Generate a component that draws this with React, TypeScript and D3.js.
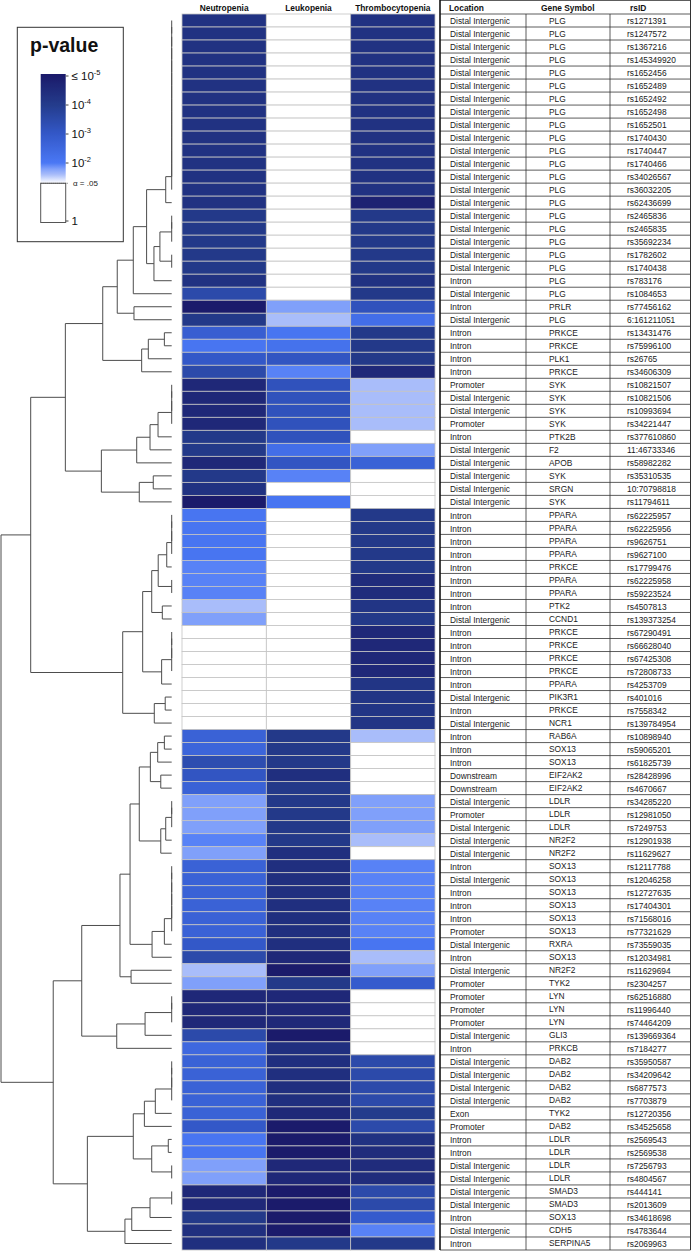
import React from "react";
import * as d3 from "d3";

// ---------------- DATA ----------------
const diseases = ["Neutropenia", "Leukopenia", "Thrombocytopenia"];

const locations = [
  "Distal Intergenic", "Distal Intergenic", "Distal Intergenic", "Distal Intergenic", "Distal Intergenic",
  "Distal Intergenic", "Distal Intergenic", "Distal Intergenic", "Distal Intergenic", "Distal Intergenic",
  "Distal Intergenic", "Distal Intergenic", "Distal Intergenic", "Distal Intergenic", "Distal Intergenic",
  "Distal Intergenic", "Distal Intergenic", "Distal Intergenic", "Distal Intergenic", "Distal Intergenic",
  "Intron", "Distal Intergenic", "Intron", "Distal Intergenic", "Intron",
  "Intron", "Intron", "Intron", "Promoter", "Distal Intergenic",
  "Distal Intergenic", "Promoter", "Intron", "Distal Intergenic", "Distal Intergenic",
  "Distal Intergenic", "Distal Intergenic", "Distal Intergenic", "Intron", "Intron",
  "Intron", "Intron", "Intron", "Intron", "Intron",
  "Intron", "Distal Intergenic", "Intron", "Intron", "Intron",
  "Intron", "Intron", "Distal Intergenic", "Intron", "Distal Intergenic",
  "Intron", "Intron", "Intron", "Downstream", "Downstream",
  "Distal Intergenic", "Promoter", "Distal Intergenic", "Distal Intergenic", "Distal Intergenic",
  "Intron", "Distal Intergenic", "Intron", "Intron", "Intron",
  "Promoter", "Distal Intergenic", "Intron", "Distal Intergenic", "Promoter",
  "Promoter", "Promoter", "Promoter", "Distal Intergenic", "Intron",
  "Distal Intergenic", "Distal Intergenic", "Distal Intergenic", "Distal Intergenic", "Exon",
  "Promoter", "Intron", "Intron", "Distal Intergenic", "Distal Intergenic",
  "Distal Intergenic", "Distal Intergenic", "Intron", "Distal Intergenic", "Intron",
];

const genes = [
  "PLG", "PLG", "PLG", "PLG", "PLG", "PLG", "PLG", "PLG", "PLG", "PLG",
  "PLG", "PLG", "PLG", "PLG", "PLG", "PLG", "PLG", "PLG", "PLG", "PLG",
  "PLG", "PLG", "PRLR", "PLG", "PRKCE", "PRKCE", "PLK1", "PRKCE", "SYK", "SYK",
  "SYK", "SYK", "PTK2B", "F2", "APOB", "SYK", "SRGN", "SYK", "PPARA", "PPARA",
  "PPARA", "PPARA", "PRKCE", "PPARA", "PPARA", "PTK2", "CCND1", "PRKCE", "PRKCE", "PRKCE",
  "PRKCE", "PPARA", "PIK3R1", "PRKCE", "NCR1", "RAB6A", "SOX13", "SOX13", "EIF2AK2", "EIF2AK2",
  "LDLR", "LDLR", "LDLR", "NR2F2", "NR2F2", "SOX13", "SOX13", "SOX13", "SOX13", "SOX13",
  "SOX13", "RXRA", "SOX13", "NR2F2", "TYK2", "LYN", "LYN", "LYN", "GLI3", "PRKCB",
  "DAB2", "DAB2", "DAB2", "DAB2", "TYK2", "DAB2", "LDLR", "LDLR", "LDLR", "LDLR",
  "SMAD3", "SMAD3", "SOX13", "CDH5", "SERPINA5",
];

const rsIDs = [
  "rs1271391", "rs1247572", "rs1367216", "rs145349920", "rs1652456",
  "rs1652489", "rs1652492", "rs1652498", "rs1652501", "rs1740430",
  "rs1740447", "rs1740466", "rs34026567", "rs36032205", "rs62436699",
  "rs2465836", "rs2465835", "rs35692234", "rs1782602", "rs1740438",
  "rs783176", "rs1084653", "rs77456162", "6:161211051", "rs13431476",
  "rs75996100", "rs26765", "rs34606309", "rs10821507", "rs10821506",
  "rs10993694", "rs34221447", "rs377610860", "11:46733346", "rs58982282",
  "rs35310535", "10:70798818", "rs11794611", "rs62225957", "rs62225956",
  "rs9626751", "rs9627100", "rs17799476", "rs62225958", "rs59223524",
  "rs4507813", "rs139373254", "rs67290491", "rs66628040", "rs67425308",
  "rs72808733", "rs4253709", "rs401016", "rs7558342", "rs139784954",
  "rs10898940", "rs59065201", "rs61825739", "rs28428996", "rs4670667",
  "rs34285220", "rs12981050", "rs7249753", "rs12901938", "rs11629627",
  "rs12117788", "rs12046258", "rs12727635", "rs17404301", "rs71568016",
  "rs77321629", "rs73559035", "rs12034981", "rs11629694", "rs2304257",
  "rs62516880", "rs11996440", "rs74464209", "rs139669364", "rs7184277",
  "rs35950587", "rs34209642", "rs6877573", "rs7703879", "rs12720356",
  "rs34525658", "rs2569543", "rs2569538", "rs7256793", "rs4804567",
  "rs444141", "rs2013609", "rs34618698", "rs4783644", "rs2069963",
];

// values are -log10(p); 0 = not significant (white)
const neutropenia = [
  4.3, 4.3, 4.3, 4.3, 4.3, 4.3, 4.3, 4.3, 4.3, 4.3,
  4.3, 4.3, 4.3, 4.3, 4.3, 4.1, 4.1, 4.1, 4.1, 4.1,
  4.3, 3.5, 5.0, 4.1, 2.8, 2.1, 3.0, 3.5, 4.6, 4.6,
  4.6, 4.6, 4.1, 4.1, 4.6, 4.1, 4.3, 5.0, 2.1, 2.1,
  2.1, 2.1, 1.95, 1.95, 1.95, 1.6, 1.8, 0, 0, 0,
  0, 0, 0, 0, 0, 2.7, 2.6, 3.4, 3.1, 2.7,
  1.8, 1.8, 1.8, 1.95, 1.8, 2.7, 2.7, 2.7, 2.7, 2.7,
  2.7, 3.0, 3.5, 1.6, 1.8, 4.6, 4.6, 4.6, 3.5, 2.5,
  2.7, 2.7, 2.7, 2.7, 2.7, 3.0, 2.1, 2.1, 1.8, 1.8,
  4.6, 4.6, 4.1, 4.4, 4.4,
];

const leukopenia = [
  0, 0, 0, 0, 0, 0, 0, 0, 0, 0,
  0, 0, 0, 0, 0, 0, 0, 0, 0, 0,
  0, 0, 1.8, 1.6, 2.1, 2.2, 3.1, 1.95, 3.2, 3.2,
  3.2, 3.2, 3.2, 2.3, 3.1, 1.95, 0, 2.1, 0, 0,
  0, 0, 0, 0, 0, 0, 0, 0, 0, 0,
  0, 0, 0, 0, 0, 4.1, 4.1, 4.1, 4.4, 4.1,
  4.1, 4.1, 4.1, 4.1, 4.4, 4.4, 4.4, 4.4, 4.4, 4.4,
  4.4, 4.4, 4.6, 5.0, 4.1, 4.6, 4.6, 4.6, 5.0, 4.4,
  4.4, 4.4, 4.4, 4.4, 4.6, 5.0, 5.0, 5.0, 4.6, 4.6,
  5.0, 5.0, 5.0, 5.0, 4.1,
];

const thrombocytopenia = [
  4.3, 4.3, 4.3, 4.3, 4.3, 4.3, 4.3, 4.3, 4.3, 4.3,
  4.3, 4.3, 4.3, 4.3, 4.8, 4.1, 4.1, 4.1, 4.1, 4.1,
  4.3, 4.1, 3.2, 2.3, 4.1, 4.1, 4.1, 4.6, 1.6, 1.6,
  1.6, 1.6, 0, 1.8, 2.7, 0, 0, 0, 4.1, 4.1,
  4.1, 4.1, 4.1, 4.5, 4.5, 4.2, 4.1, 4.6, 4.6, 4.6,
  4.6, 4.2, 4.2, 4.2, 4.2, 1.6, 0, 0, 0, 0,
  1.8, 1.8, 1.8, 1.6, 0, 1.95, 1.95, 1.95, 1.95, 1.95,
  1.95, 2.1, 1.6, 1.8, 2.9, 0, 0, 0, 0, 0,
  3.5, 3.5, 3.5, 3.5, 4.0, 3.5, 4.3, 4.5, 4.5, 4.5,
  3.5, 3.5, 2.9, 1.95, 4.1,
];

// legend ticks in -log10(p)
const legendTicks = [
  { t: 5, base: "≤ 10", sup: "-5" },
  { t: 4, base: "10", sup: "-4" },
  { t: 3, base: "10", sup: "-3" },
  { t: 2, base: "10", sup: "-2" },
  { t: 0, base: "1", sup: "" },
];
const alphaLevel = 0.05;

// dendrogram: [mergeHeight, left, right], leaves are row numbers (1-based)
type TreeNode = number | [number, TreeNode, TreeNode];
const chain = (...leaves: number[]): TreeNode =>
  leaves.slice(1).reduce<TreeNode>((acc, l) => [0, acc, l], leaves[0]);

const dendrogram: TreeNode = [1.0,
  [0.826,
    [0.623,
      [0.404,
        [0.319,
          [0.225,
            [0.147,
              [0.035, chain(1, 2, 3, 4, 5, 6, 7, 8, 9, 10, 11, 12, 13, 14), 15],
              [0.104, [0.069, chain(16, 17, 18), chain(19, 20)], 21]],
            22],
          [0.221, 23, 24]],
        [0.176, [0.137, [0.043, 25, 26], 27], 28]],
      [0.412,
        [0.205, [0.127, [0.080, chain(29, 30, 31, 32), 33], 34], 35],
        [0.190, [0.108, 36, 37], 38]]],
    [0.287,
      [0.170,
        [0.117,
          [0.079, [0.029, chain(39, 40, 41, 42), 43], chain(44, 45)],
          [0.055, 46, 47]],
        [0.059, chain(48, 49, 50, 51), 52]],
      [0.102, [0.038, 53, 54], 55]]],
  [0.694,
    [0.527,
      [0.303,
        [0.244,
          [0.190,
            [0.125, [0.082, [0.043, 56, 57], 58], [0.064, 59, 60]],
            [0.064, [0.035, chain(61, 62, 63), 64], 65]],
          [0.115, [0.043, chain(66, 67, 68, 69, 70, 71), 72], 73]],
        [0.238, 74, 75]],
      [0.322, [0.156, chain(76, 77, 78), 79], 80]],
    [0.494,
      [0.225,
        [0.160, [0.096, chain(81, 82, 83, 84), 85], 86],
        [0.117, [0.020, 87, 88], chain(89, 90)]],
      [0.274, [0.234, [0.127, chain(91, 92), 93], 94], 95]]]];

// ---------------- LAYOUT / STYLE ----------------
const W = 692;
const H = 1251;
const FONT = "'Liberation Sans', Arial, Helvetica, sans-serif";
const TOP = 14;
const BOTTOM = 1250;
const HEAT_X0 = 182;
const HEAT_X1 = 435;
const TABLE_X0 = 440;
const TABLE_X1 = 690.5;
const COL_DIV1 = 526;
const COL_DIV2 = 610;

const colorStops = [-Math.log10(alphaLevel), 1.6, 1.8, 2, 3, 4, 5];
const colorValues = ["#ffffff", "#a9bdfa", "#80a0fa", "#4a78f5", "#3358c8", "#243c8c", "#1b1b6b"];
const colorScale = d3.scaleLinear<string>().domain(colorStops).range(colorValues)
  .interpolate(d3.interpolateRgb).clamp(true);
const cellColor = (t: number) => (t < -Math.log10(alphaLevel) ? "#ffffff" : colorScale(t));

export default function App() {
  const n = rsIDs.length;
  const yBand = d3.scaleBand<number>().domain(d3.range(n)).range([TOP, BOTTOM]).padding(0);
  const bw = yBand.bandwidth();
  const yc = (i: number) => (yBand(i) as number) + bw / 2;
  const xCol = d3.scaleBand<string>().domain(diseases).range([HEAT_X0, HEAT_X1]).padding(0);
  const series = [neutropenia, leukopenia, thrombocytopenia];

  // dendrogram
  const xTree = d3.scaleLinear().domain([0, 1]).range([171.7, 1]);
  const segs: [number, number, number, number][] = [];
  const lay = (node: TreeNode): { x: number; y: number } => {
    if (typeof node === "number") return { x: xTree(0), y: yc(node - 1) };
    const [h, a, b] = node;
    const A = lay(a);
    const B = lay(b);
    const x = xTree(h);
    segs.push([x, A.y, x, B.y]);
    if (A.x !== x) segs.push([x, A.y, A.x, A.y]);
    if (B.x !== x) segs.push([x, B.y, B.x, B.y]);
    return { x, y: (A.y + B.y) / 2 };
  };
  lay(dendrogram);

  // legend
  const yLeg = d3.scaleLinear().domain([0, 5]).range([221, 76]);
  const barTop = 74;
  const barBot = 222.5;
  const gradStops = d3.range(0, 101).map((k) => {
    const y = barTop + (k / 100) * (barBot - barTop);
    const t = yLeg.invert(y);
    return { off: k, color: cellColor(t) };
  });
  const yAlpha = yLeg(-Math.log10(alphaLevel));

  return (
    <svg width={W} height={H} style={{ position: "absolute", left: 0, top: 0, background: "#fff" }}
      fontFamily={FONT}>
      <defs>
        <linearGradient id="pgrad" x1="0" y1="0" x2="0" y2="1">
          {gradStops.map((s) => (
            <stop key={s.off} offset={`${s.off}%`} stopColor={s.color} />
          ))}
        </linearGradient>
      </defs>
      <rect x={0} y={0} width={W} height={H} fill="#fff" />

      {/* dendrogram */}
      <g stroke="#4d4d4d" strokeWidth={1} fill="none">
        {segs.map((s, i) => (
          <line key={i} x1={s[0]} y1={s[1]} x2={s[2]} y2={s[3]} />
        ))}
      </g>

      {/* heatmap */}
      <g>
        {diseases.map((d, ci) =>
          series[ci].map((v, ri) => (
            <rect key={`${d}-${ri}`} x={xCol(d)} y={yBand(ri)} width={xCol.bandwidth()} height={bw}
              fill={cellColor(v)} stroke="#c4c4c4" strokeWidth={0.8} />
          ))
        )}
        {diseases.map((d) => (
          <text key={d} x={(xCol(d) as number) + xCol.bandwidth() / 2} y={10.5} textAnchor="middle"
            fontSize={8.4} fontWeight="bold" fill="#111">{d}</text>
        ))}
      </g>

      {/* table */}
      <g>
        {d3.range(n + 1).map((i) => {
          const y = i < n ? (yBand(i) as number) : BOTTOM;
          return <line key={i} x1={TABLE_X0} x2={TABLE_X1} y1={y} y2={y} stroke="#333" strokeWidth={0.8} />;
        })}
        <line x1={TABLE_X0} x2={TABLE_X1} y1={0.5} y2={0.5} stroke="#333" strokeWidth={0.8} />
        <line x1={TABLE_X0} x2={TABLE_X0} y1={0} y2={BOTTOM} stroke="#111" strokeWidth={1.6} />
        <line x1={TABLE_X1} x2={TABLE_X1} y1={0} y2={BOTTOM} stroke="#333" strokeWidth={1} />
        <line x1={COL_DIV1} x2={COL_DIV1} y1={TOP} y2={BOTTOM} stroke="#333" strokeWidth={0.8} />
        <line x1={COL_DIV2} x2={COL_DIV2} y1={TOP} y2={BOTTOM} stroke="#333" strokeWidth={0.8} />
        <text x={449} y={10.5} fontSize={8.4} fontWeight="bold" fill="#111">Location</text>
        <text x={541} y={10.5} fontSize={8.4} fontWeight="bold" fill="#111">Gene Symbol</text>
        <text x={630} y={10.5} fontSize={8.4} fontWeight="bold" fill="#111">rsID</text>
        {rsIDs.map((id, i) => (
          <g key={id + i} fontSize={8.4} fill="#1a1a1a">
            <text x={450} y={yc(i) + 3.6}>{locations[i]}</text>
            <text x={549} y={yc(i) + 3.0}>{genes[i]}</text>
            <text x={627} y={yc(i) + 3.6}>{id}</text>
          </g>
        ))}
      </g>

      {/* legend */}
      <g>
        <rect x={17.3} y={27.3} width={106} height={214.4} fill="#fff" stroke="#333" strokeWidth={1} />
        <text x={30} y={52} fontSize={19.5} fontWeight="bold" fill="#111">p-value</text>
        <rect x={40.7} y={barTop} width={25} height={barBot - barTop} fill="url(#pgrad)" />
        <rect x={40.7} y={yAlpha} width={25} height={barBot - yAlpha} fill="none" stroke="#555" strokeWidth={1} />
        <line x1={40.7} x2={68} y1={yAlpha} y2={yAlpha} stroke="#444" strokeWidth={0.8} strokeDasharray="1,1" />
        <text x={73} y={yAlpha + 3} fontSize={8} fill="#222">α = .05</text>
        {legendTicks.map((tk) => (
          <g key={tk.sup + tk.base}>
            <line x1={65.7} x2={68.5} y1={yLeg(tk.t)} y2={yLeg(tk.t)} stroke="#444" strokeWidth={1} />
            <text x={71.5} y={yLeg(tk.t) + 4.2} fontSize={11.5} fill="#111">
              {tk.base}
              {tk.sup && <tspan dy={-5} fontSize={7.5}>{tk.sup}</tspan>}
            </text>
          </g>
        ))}
      </g>
    </svg>
  );
}
